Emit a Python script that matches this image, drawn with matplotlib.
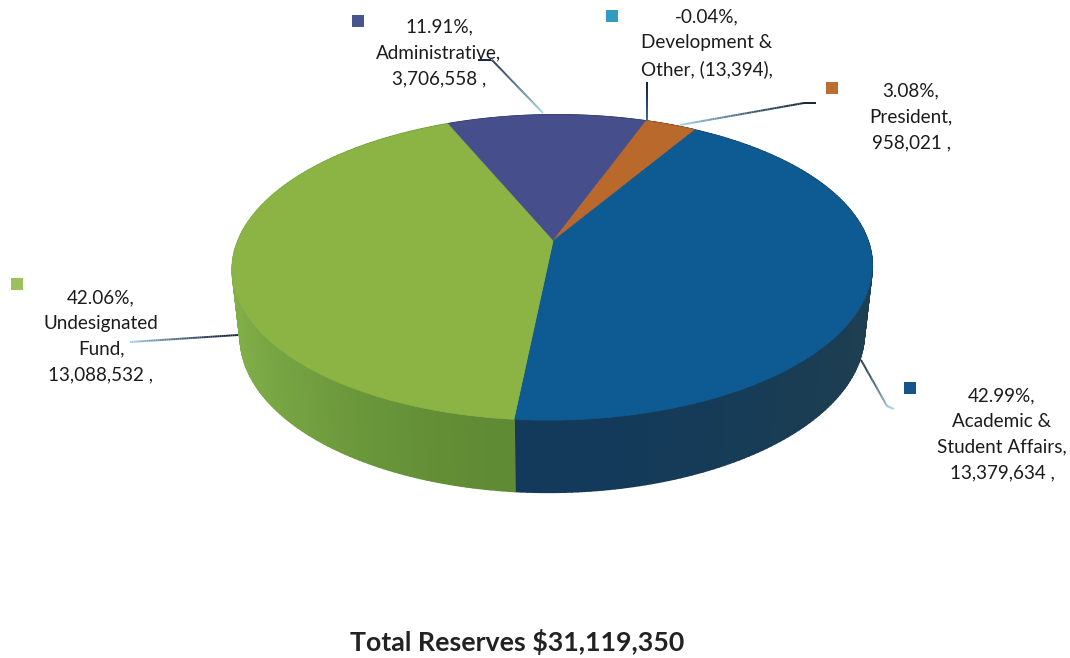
import numpy as np
import matplotlib
matplotlib.use("Agg")
import matplotlib.pyplot as plt
from matplotlib.collections import LineCollection, PolyCollection
from matplotlib.colors import to_rgb
from matplotlib.patches import Polygon, Rectangle

# Reserve balances by division, clockwise from the Administrative slice
categories = ["Administrative", "Development &\nOther", "President",
              "Academic &\nStudent Affairs", "Undesignated\nFund"]
values = [3706558, -13394, 958021, 13379634, 13088532]
percents = ["11.91%", "-0.04%", "3.08%", "42.99%", "42.06%"]
amounts = ["3,706,558 ,", "(13,394),", "958,021 ,", "13,379,634 ,", "13,088,532 ,"]
title = "Total Reserves $31,119,350"

top_colors = ["#464f8c", "#2b93b8", "#b9692c", "#0e5a92", "#8cb444"]
side_near = ["#333c6c", "#206f8c", "#8c5020", "#133a5a", "#5f8a34"]
side_far = ["#333c6c", "#206f8c", "#8c5020", "#1f3f50", "#80ae48"]
swatch_colors = ["#47568f", "#2f9cc0", "#b96f33", "#15558c", "#9cc15c"]

# Pie geometry in figure pixels
CX, CY = 553, 241
A, B, K, SHEAR = 315, 148, 0.174, 4
START_DEG = -23.5
TOP_MID_Y, BOT_MID_Y = 267.5, 335
RIM_SCALE_X, RIM_SCALE_Y = 0.975, 1.03

plt.rcParams["font.family"] = ["Lato", "DejaVu Sans"]
fig = plt.figure(figsize=(10.7, 6.58), dpi=100, facecolor="white")
ax = fig.add_axes([0, 0, 1, 1])
ax.set_xlim(0, 1070)
ax.set_ylim(658, 0)
ax.axis("off")


def project(theta):
    """Map clockwise-from-back pie angles onto the tilted top face."""
    x, y = np.sin(theta), -np.cos(theta)
    w = 1 - K * y
    return CX + (A * x - SHEAR * y) / w, CY + B * y / w


def lower_rim(sx, sy):
    return CX + RIM_SCALE_X * (sx - CX), BOT_MID_Y + RIM_SCALE_Y * (sy - TOP_MID_Y)


shares = np.clip(values, 0, None) / np.clip(values, 0, None).sum()
edges = np.radians(START_DEG) + 2 * np.pi * np.concatenate([[0], np.cumsum(shares)])

# Side wall first, shaded from the near edge outwards; the top faces cover the rest
for i in range(len(values)):
    if shares[i] == 0:
        continue
    t = np.linspace(edges[i], edges[i + 1], 160)
    sx, sy = project(t)
    bx, by = lower_rim(sx, sy)
    quads, colors = [], []
    near, far = np.array(to_rgb(side_near[i])), np.array(to_rgb(side_far[i]))
    for j in range(len(t) - 1):
        quads.append([(sx[j], sy[j]), (sx[j + 1], sy[j + 1]), (bx[j + 1], by[j + 1]), (bx[j], by[j])])
        mix = min(abs(sx[j] - CX) / 320, 1) ** 2
        colors.append(near + (far - near) * mix)
    ax.add_collection(PolyCollection(quads, facecolors=colors, edgecolors=colors, linewidths=1.3))

# Top faces
for i in range(len(values)):
    if shares[i] == 0:
        continue
    t = np.linspace(edges[i], edges[i + 1], 200)
    sx, sy = project(t)
    pts = np.column_stack([np.r_[CX, sx], np.r_[CY, sy]])
    ax.add_patch(Polygon(pts, closed=True, facecolor=top_colors[i], edgecolor=top_colors[i], linewidth=0.5))


def leader(points, dark="#12233a", light="#9fd4e8"):
    """Draw a thin callout line fading from dark to pale along its length."""
    pts = np.array(points, dtype=float)
    lengths = np.r_[0, np.cumsum(np.hypot(*np.diff(pts, axis=0).T))]
    s = np.linspace(0, lengths[-1], 60)
    xy = np.column_stack([np.interp(s, lengths, pts[:, 0]), np.interp(s, lengths, pts[:, 1])])
    segs = np.stack([xy[:-1], xy[1:]], axis=1)
    c0, c1 = np.array(to_rgb(dark)), np.array(to_rgb(light))
    cols = [c0 + (c1 - c0) * f ** 1.5 for f in np.linspace(0, 1, len(segs))]
    ax.add_collection(LineCollection(segs, colors=cols, linewidths=1.4))


leader([(478, 60), (492, 60), (543, 113)])
leader([(647, 82), (647, 121)], light="#3a6f96")
leader([(816, 103), (804, 103), (680, 125)])
leader([(861, 360), (887, 406), (894, 409)])
leader([(238, 335), (130, 342)])

# Data labels with their colour keys
label_centers = [(439, 53), (707, 43), (911, 117), (1002, 434), (101, 336)]
swatches = [(358, 21), (612, 16), (832, 88), (910, 388), (17, 284)]
for i, name in enumerate(categories):
    text = f"{percents[i]},\n{name}, {amounts[i]}" if i == 1 else f"{percents[i]},\n{name},\n{amounts[i]}"
    ax.text(*label_centers[i], text, ha="center", va="center", fontsize=13.6, linespacing=1.62, color="#1c1c1c")
    ax.add_patch(Rectangle((swatches[i][0] - 6, swatches[i][1] - 6), 12, 12, facecolor=swatch_colors[i], edgecolor="none"))

ax.text(517, 642, title, ha="center", va="center", fontsize=19.3, fontweight="bold", color="#222222")

fig.savefig("out.png", dpi=100, facecolor="white")
